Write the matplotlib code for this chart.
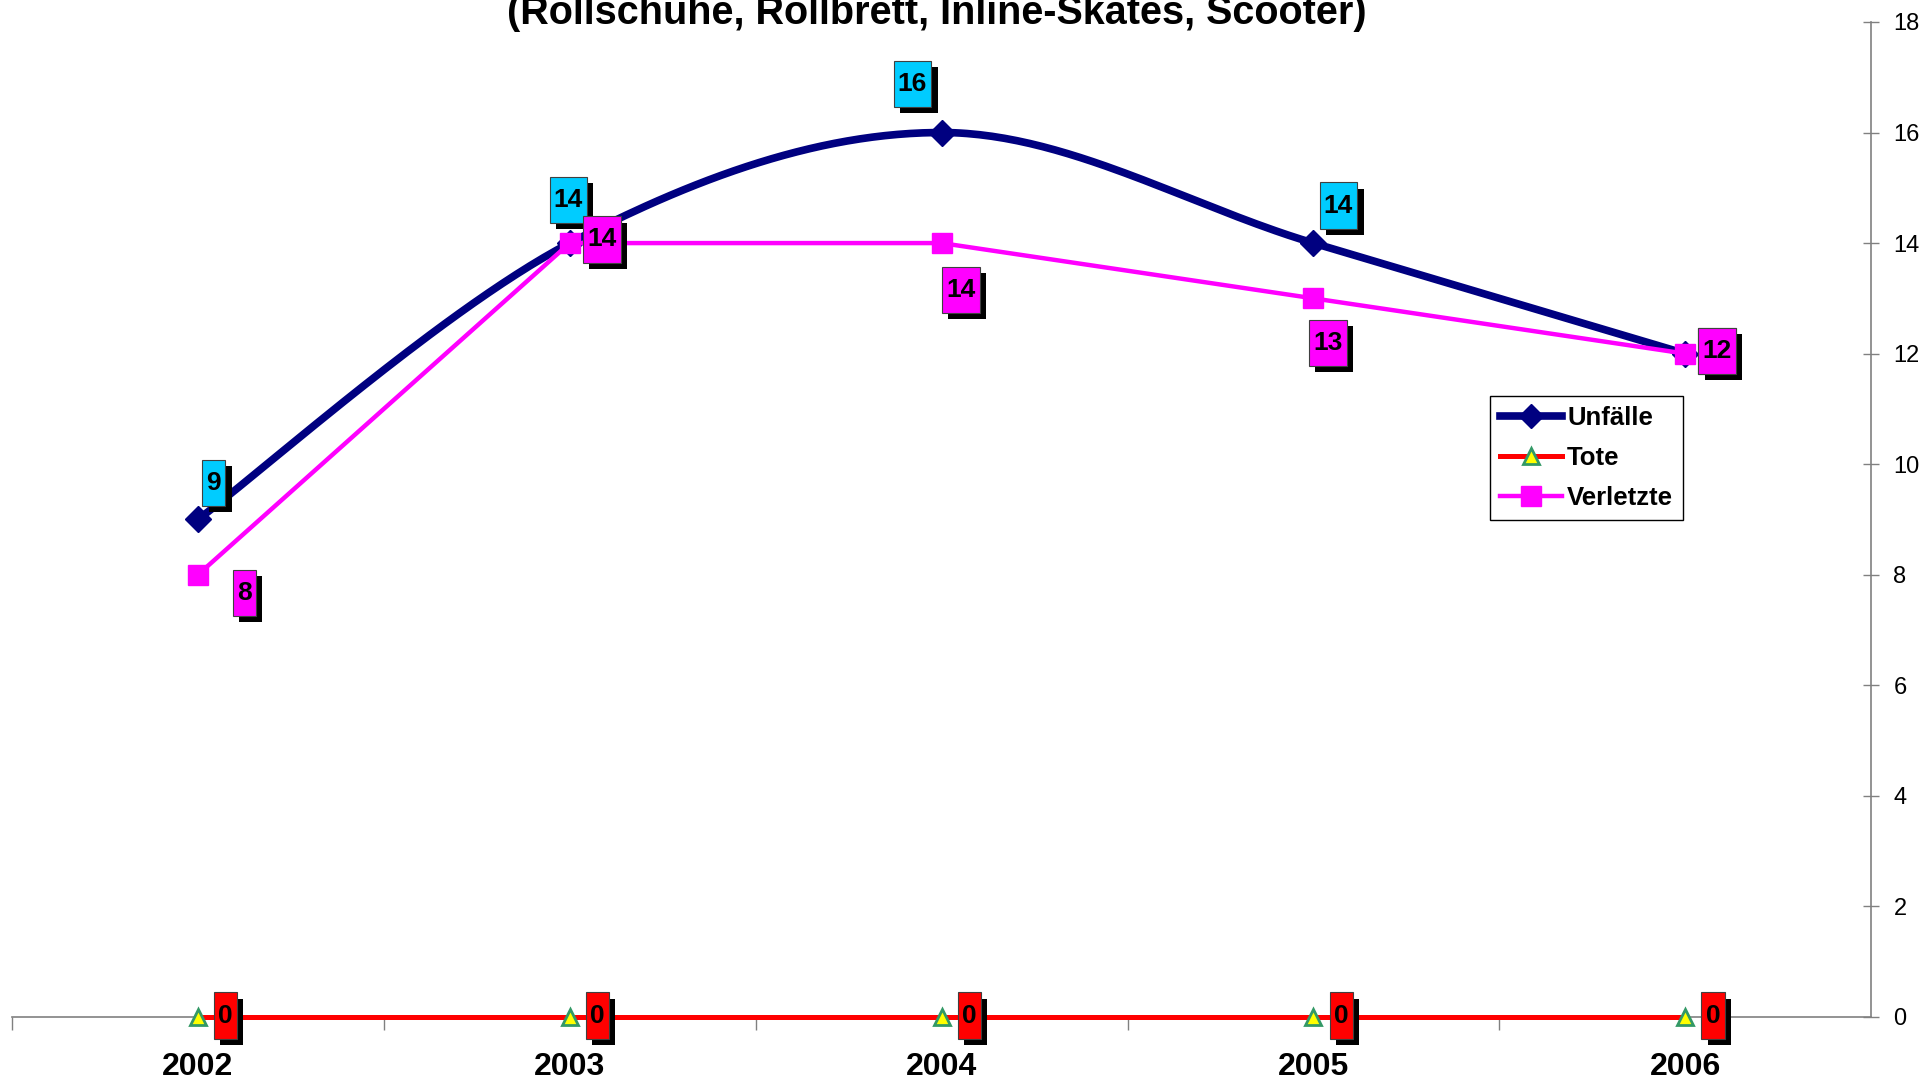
import numpy as np
import matplotlib.pyplot as plt
import matplotlib.patheffects as pe
from matplotlib.lines import Line2D
from matplotlib.path import Path

years = ['2002', '2003', '2004', '2005', '2006']
unfaelle = [9, 14, 16, 14, 12]
tote = [0, 0, 0, 0, 0]
verletzte = [8, 14, 14, 13, 12]
title = '(Rollschuhe, Rollbrett, Inline-Skates, Scooter)'

NAVY = '#000080'
MAGENTA = '#FF00FF'
RED = '#FF0000'
CYAN = '#00CCFF'
NARROW = ['Liberation Sans Narrow', 'Liberation Sans', 'DejaVu Sans']

plt.rcParams['font.family'] = ['Liberation Sans', 'DejaVu Sans']


def smooth(xs, ys, n=60):
    # Excel-like smoothed line (Catmull-Rom bezier)
    p = np.column_stack([xs, ys]).astype(float)
    p = np.vstack([p[0], p, p[-1]])
    out = []
    for i in range(1, len(p) - 2):
        p0, p1, p2, p3 = p[i - 1], p[i], p[i + 1], p[i + 2]
        c1 = p1 + (p2 - p0) / 6
        c2 = p2 - (p3 - p1) / 6
        t = np.linspace(0, 1, n)[:, None]
        seg = (1 - t) ** 3 * p1 + 3 * (1 - t) ** 2 * t * c1 + 3 * (1 - t) * t ** 2 * c2 + t ** 3 * p2
        out.append(seg)
    out = np.vstack(out)
    return out[:, 0], out[:, 1]


def tall_box(x0, y0, width, height, mutation_size):
    px = 0.16 * mutation_size
    py = 0.42 * mutation_size
    x0, y0 = x0 - px, y0 - py
    x1, y1 = x0 + width + 2 * px, y0 + height + 2 * py
    return Path([(x0, y0), (x1, y0), (x1, y1), (x0, y1), (x0, y0)],
                [Path.MOVETO, Path.LINETO, Path.LINETO, Path.LINETO, Path.CLOSEPOLY])


def label(ax, x, y, txt, color, off):
    a = ax.annotate(txt, (x, y), xytext=off, textcoords='offset points',
                    ha='center', va='center', fontsize=19, fontweight='bold',
                    color='black', zorder=10, annotation_clip=False,
                    bbox=dict(boxstyle=tall_box, fc=color, ec='#404040', lw=0.8))
    a.get_bbox_patch().set_path_effects([
        pe.SimplePatchShadow(offset=(4.5, -4.5), shadow_rgbFace='black', alpha=1),
        pe.Normal()])
    return a


fig = plt.figure(figsize=(19.24, 10.82), dpi=100)
ax = fig.add_axes([0.00624, 0.0601, 0.9663, 0.9196])

x = np.arange(len(years))

sx, sy = smooth(x, unfaelle)
ax.plot(sx, sy, color=NAVY, lw=5.5, zorder=3, solid_capstyle='round')
ax.plot(x, unfaelle, ls='none', marker='D', ms=13, color=NAVY, zorder=3)
ax.plot(x, verletzte, color=MAGENTA, lw=3.2, marker='s', ms=15, zorder=4)
ax.plot(x, tote, color=RED, lw=3.6, marker='^', ms=11, mfc='#FFFF00',
        mec='#339966', mew=2, zorder=5, clip_on=False)

u_off = [(11.5, 26.5), (-1, 31), (-21, 35), (18, 27), (23, 2)]
v_off = [(33.5, -13), (23, 2.6), (14, -33.5), (10.6, -32), (23, 2)]
for i in range(len(years)):
    label(ax, x[i], unfaelle[i], str(unfaelle[i]), CYAN, u_off[i])
for i in range(len(years)):
    label(ax, x[i], verletzte[i], str(verletzte[i]), MAGENTA, v_off[i])
for i in range(len(years)):
    label(ax, x[i], tote[i], str(tote[i]), RED, (20, 1))

ax.set_xlim(-0.5, len(years) - 0.5)
ax.set_ylim(0, 18)
ax.set_yticks(range(0, 19, 2))
ax.set_xticks(x)
ax.set_xticklabels(years, fontsize=23, fontweight='bold', family=NARROW)
ax.set_xticks(np.arange(-0.5, len(years) - 0.5), minor=True)
ax.tick_params(axis='x', which='major', length=0, pad=25)
ax.tick_params(axis='x', which='minor', length=9, direction='out', color='#808080', width=1)
ax.yaxis.tick_right()
ax.tick_params(axis='y', direction='inout', length=12, color='#808080', width=1,
               labelsize=17, pad=10)

for s in ['left', 'top']:
    ax.spines[s].set_visible(False)
for s in ['right', 'bottom']:
    ax.spines[s].set_color('#808080')
    ax.spines[s].set_linewidth(1.2)

handles = [
    Line2D([], [], color=NAVY, lw=5.5, marker='D', ms=12),
    Line2D([], [], color=RED, lw=3.6, marker='^', ms=11, mfc='#FFFF00', mec='#339966', mew=2),
    Line2D([], [], color=MAGENTA, lw=3.2, marker='s', ms=14),
]
leg = fig.legend(handles, ['Unfälle', 'Tote', 'Verletzte'], loc='upper left',
                 bbox_to_anchor=(1490 / 1924, 1 - 396 / 1082), bbox_transform=fig.transFigure,
                 prop={'size': 18.5, 'weight': 'bold'}, fancybox=False, framealpha=1,
                 edgecolor='black', handlelength=2.4, labelspacing=0.62,
                 handletextpad=0.2, borderpad=0.4, borderaxespad=0)
leg.get_frame().set_linewidth(1)

# title is cut off at the top edge, as in the original chart
fig.text(0.487, 1 - 24.5 / 1082, title, ha='center', va='baseline', fontsize=28.5,
         fontweight='bold', family=NARROW)

fig.savefig('out.png', dpi=100)
